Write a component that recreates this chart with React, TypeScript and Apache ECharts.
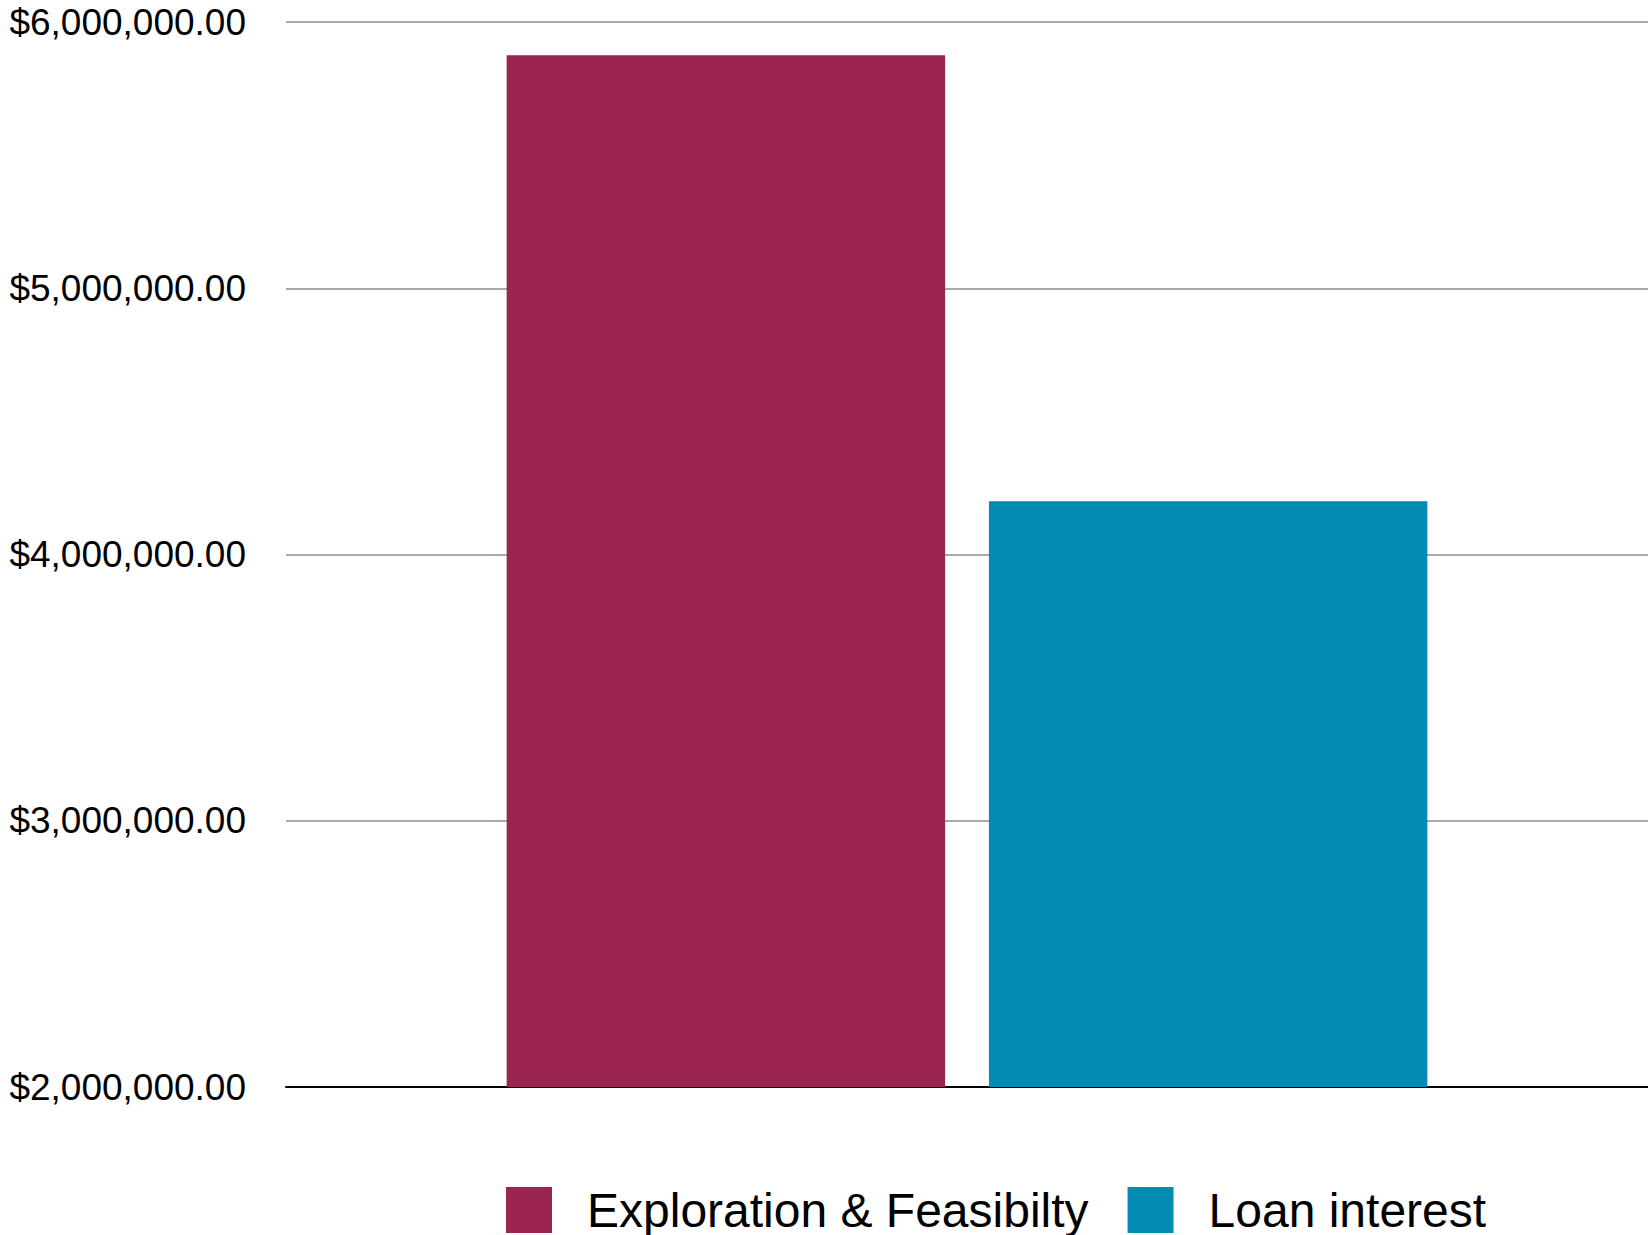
import React, { useEffect, useRef } from "react";
import * as echarts from "echarts";

const categories = [""];
const seriesNames = ["Exploration & Feasibilty", "Loan interest"];
const explorationValues = [5875000];
const loanValues = [4200000];
const seriesColors = ["#9B2450", "#028CB4"];
const yMin = 2000000;
const yMax = 6000000;
const yInterval = 1000000;

const fmt = (v: number) =>
  "$" + v.toLocaleString("en-US", { minimumFractionDigits: 2, maximumFractionDigits: 2 });

export default function App() {
  const ref = useRef<HTMLDivElement>(null);
  useEffect(() => {
    if (!ref.current) return;
    const chart = echarts.init(ref.current, null, { renderer: "svg" });
    const font = '"Liberation Sans", Helvetica, Arial, sans-serif';
    chart.setOption({
      animation: false,
      backgroundColor: "#ffffff",
      textStyle: { fontFamily: font },
      grid: { left: 286, right: 0, top: 22, bottom: 148, containLabel: false },
      legend: {
        left: 506,
        top: 1186,
        padding: 0,
        itemWidth: 46,
        itemHeight: 46,
        itemGap: 39,
        icon: "rect",
        data: seriesNames,
        textStyle: {
          fontFamily: font,
          fontSize: 48,
          color: "#000",
          lineHeight: 46,
          padding: [0, 0, 0, 30],
        },
      },
      xAxis: {
        type: "category",
        data: categories,
        axisLabel: { show: false },
        axisTick: { show: false },
        axisLine: { show: true, lineStyle: { color: "#000", width: 2 } },
      },
      yAxis: {
        type: "value",
        min: yMin,
        max: yMax,
        interval: yInterval,
        axisLine: { show: false },
        axisTick: { show: false },
        axisLabel: {
          formatter: (v: number) => fmt(v),
          fontSize: 37,
          color: "#000",
          margin: 40,
          fontFamily: font,
        },
        splitLine: { lineStyle: { color: "#aaaaaa", width: 2 } },
      },
      series: [
        {
          name: seriesNames[0],
          type: "bar",
          data: explorationValues,
          itemStyle: { color: seriesColors[0] },
          barGap: "10%",
          barCategoryGap: "32.4%",
        },
        {
          name: seriesNames[1],
          type: "bar",
          data: loanValues,
          itemStyle: { color: seriesColors[1] },
          barGap: "10%",
          barCategoryGap: "32.4%",
        },
      ],
    });
    return () => chart.dispose();
  }, []);
  return (
    <div
      ref={ref}
      style={{ position: "fixed", left: 0, top: 0, width: 1648, height: 1235 }}
    />
  );
}
